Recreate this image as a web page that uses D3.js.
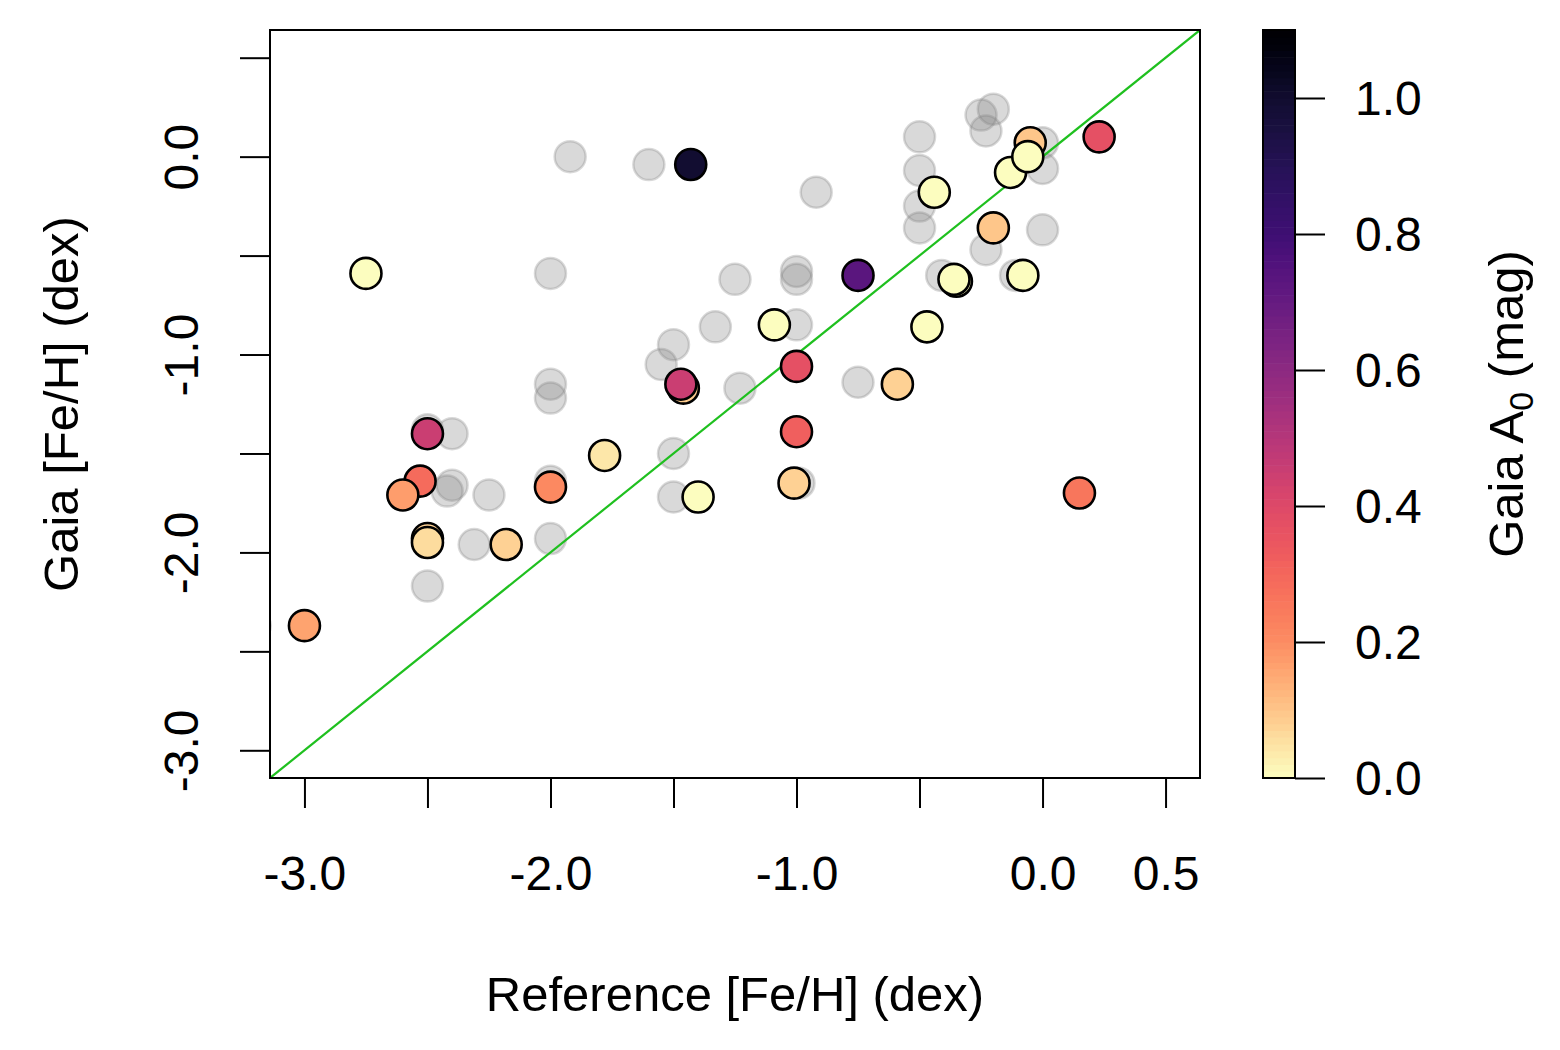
<!DOCTYPE html>
<html>
<head>
<meta charset="utf-8">
<script src="https://cdn.jsdelivr.net/npm/d3@7"></script>
<style>
  html, body { margin: 0; padding: 0; background: #fff; }
  svg { display: block; font-family: "Liberation Sans", Arial, Helvetica, sans-serif; }
</style>
</head>
<body>
<svg id="chart" width="1560" height="1050"></svg>
<script>
// background comparison sample (drawn in translucent grey)
const bgRef  = [-1.92, -1.60, -2.00, -1.25, -1.33, -1.50, -1.55, -2.00, -2.00, -1.23,
                -0.20, -0.25, -0.23,  0.00,  0.00, -0.50, -0.50, -0.50, -0.50, -0.92,
                 0.00, -0.23, -1.00, -1.00, -0.41, -0.11, -1.00, -0.75, -2.50, -2.40,
                -2.40, -2.42, -2.25, -2.00, -1.50, -1.50, -2.31, -2.00, -2.50, -3.20, -0.99];
const bgGaia = [ 0.00, -0.04, -0.59, -0.62, -0.86, -0.95, -1.05, -1.15, -1.22, -1.17,
                 0.24,  0.21,  0.13,  0.07, -0.06,  0.10, -0.07, -0.25, -0.36, -0.18,
                -0.37, -0.47, -0.58, -0.62, -0.60, -0.60, -0.85, -1.14, -1.38, -1.40,
                -1.66, -1.69, -1.71, -1.64, -1.50, -1.72, -1.96, -1.93, -2.17, -2.37, -1.65];

// highlighted stars, coloured by Gaia A0 (draw order = array order)
const starRef  = [-2.75, -1.43, -1.46, -1.47, -0.05,  0.23, -0.13, -0.06, -0.44, -0.20,
                  -0.75, -0.35, -0.36, -0.08, -1.09, -0.47, -1.00, -0.59, -1.00, -1.01,
                   0.15, -2.50, -2.53, -2.60, -2.00, -1.78, -1.40, -2.50, -2.50, -2.18, -3.00];
const starGaia = [-0.59, -0.04, -1.17, -1.15,  0.07,  0.10, -0.08,  0.00, -0.18, -0.36,
                  -0.60, -0.63, -0.62, -0.60, -0.85, -0.86, -1.06, -1.15, -1.39, -1.65,
                  -1.70, -1.40, -1.64, -1.71, -1.67, -1.51, -1.72, -1.93, -1.95, -1.96, -2.37];
const starA0   = [ 0.00,  1.00,  0.09,  0.45,  0.10,  0.37,  0.00,  0.00,  0.00,  0.10,
                   0.73,  0.00,  0.00,  0.00,  0.00,  0.00,  0.37,  0.08,  0.32,  0.08,
                   0.26,  0.45,  0.29,  0.17,  0.21,  0.04,  0.00,  0.08,  0.06,  0.08,  0.16];

const axisTicks   = [-3.0, -2.5, -2.0, -1.5, -1.0, -0.5, 0.0, 0.5];
const xTickLabels = ["-3.0", "", "-2.0", "", "-1.0", "", "0.0", "0.5"];
const yTickLabels = ["-3.0", "", "-2.0", "", "-1.0", "", "0.0", ""];
const a0Ticks      = [0.0, 0.2, 0.4, 0.6, 0.8, 1.0];
const a0TickLabels = ["0.0", "0.2", "0.4", "0.6", "0.8", "1.0"];
const a0Max = 1.1;

const svg = d3.select("#chart");
const plot = { left: 270, right: 1200, top: 30, bottom: 778 };
const bar = { left: 1263, right: 1295 };
const fontSize = 48;

const x = d3.scaleLinear().domain([-3.14, 0.64]).range([plot.left, plot.right]);
const y = d3.scaleLinear().domain([-3.14, 0.64]).range([plot.bottom, plot.top]);
const c = d3.scaleLinear().domain([0, a0Max]).range([plot.bottom, plot.top]);
// A0 -> position along the (reversed) magma ramp
const ramp = d3.scaleLinear()
    .domain([0, 0.2, 0.4, 0.6, 0.8, 1.0, a0Max])
    .range([1, 0.76, 0.6, 0.4, 0.21, 0.09, 0])
    .clamp(true);
const colour = v => d3.interpolateMagma(ramp(v));

svg.append("defs").append("clipPath").attr("id", "plot-clip")
    .append("rect")
    .attr("x", plot.left).attr("y", plot.top)
    .attr("width", plot.right - plot.left).attr("height", plot.bottom - plot.top);

const inner = svg.append("g").attr("clip-path", "url(#plot-clip)");

// grey points
inner.append("g")
    .selectAll("circle")
    .data(bgRef.map((r, i) => ({ r, g: bgGaia[i] })))
    .join("circle")
    .attr("cx", d => x(d.r))
    .attr("cy", d => y(d.g))
    .attr("r", 15.5)
    .attr("fill", "rgba(128,128,128,0.3)")
    .attr("stroke", "rgba(128,128,128,0.3)")
    .attr("stroke-width", 2.5);

// one-to-one line
inner.append("line")
    .attr("x1", x(-3.14)).attr("y1", y(-3.14))
    .attr("x2", x(0.64)).attr("y2", y(0.64))
    .attr("stroke", "#1fc01f")
    .attr("stroke-width", 2.2);

// coloured points
inner.append("g")
    .selectAll("circle")
    .data(starRef.map((r, i) => ({ r, g: starGaia[i], a0: starA0[i] })))
    .join("circle")
    .attr("cx", d => x(d.r))
    .attr("cy", d => y(d.g))
    .attr("r", 15.5)
    .attr("fill", d => colour(d.a0))
    .attr("stroke", "#000")
    .attr("stroke-width", 2.6);

// plot box
svg.append("rect")
    .attr("x", plot.left).attr("y", plot.top)
    .attr("width", plot.right - plot.left).attr("height", plot.bottom - plot.top)
    .attr("fill", "none")
    .attr("stroke", "#000")
    .attr("stroke-width", 2);

function styleAxis(g) {
    g.select(".domain").remove();
    g.selectAll("line").attr("stroke", "#000").attr("stroke-width", 2);
    g.selectAll("text")
        .attr("fill", "#000")
        .style("font-size", fontSize + "px")
        .style("font-family", "\"Liberation Sans\", Arial, Helvetica, sans-serif");
}

// x axis
svg.append("g")
    .attr("transform", `translate(0,${plot.bottom})`)
    .call(d3.axisBottom(x).tickValues(axisTicks).tickSize(30).tickFormat((d, i) => xTickLabels[i]))
    .call(styleAxis)
    .call(g => g.selectAll("text").attr("y", 112).attr("dy", null));

// y axis, labels rotated like R's las = 0
svg.append("g")
    .attr("transform", `translate(${plot.left},0)`)
    .call(d3.axisLeft(y).tickValues(axisTicks).tickSize(30).tickFormat((d, i) => yTickLabels[i]))
    .call(styleAxis)
    .call(g => g.selectAll("text")
        .attr("x", 0).attr("y", 0).attr("dy", null)
        .attr("text-anchor", "middle")
        .attr("transform", "translate(-72,0) rotate(-90)"));

// axis titles
svg.append("text")
    .attr("x", (plot.left + plot.right) / 2)
    .attr("y", 1011)
    .attr("text-anchor", "middle")
    .style("font-size", "49px")
    .text("Reference [Fe/H] (dex)");

svg.append("text")
    .attr("transform", `translate(78,${(plot.top + plot.bottom) / 2}) rotate(-90)`)
    .attr("text-anchor", "middle")
    .style("font-size", "49px")
    .text("Gaia [Fe/H] (dex)");

// colour bar
const step = a0Max / 110;
svg.append("g")
    .selectAll("rect")
    .data(d3.range(0, a0Max - step / 2, step))
    .join("rect")
    .attr("x", bar.left)
    .attr("width", bar.right - bar.left)
    .attr("y", d => c(d + step))
    .attr("height", d => c(d) - c(d + step) + 0.6)
    .attr("fill", d => colour(d + step / 2));

svg.append("rect")
    .attr("x", bar.left).attr("y", plot.top)
    .attr("width", bar.right - bar.left).attr("height", plot.bottom - plot.top)
    .attr("fill", "none")
    .attr("stroke", "#000")
    .attr("stroke-width", 2);

svg.append("g")
    .attr("transform", `translate(${bar.right},0)`)
    .call(d3.axisRight(c).tickValues(a0Ticks).tickSize(30).tickFormat((d, i) => a0TickLabels[i]))
    .call(styleAxis)
    .call(g => g.selectAll("text").attr("x", 60).attr("dy", "0.35em"));

const cTitle = svg.append("text")
    .attr("transform", `translate(1523,${(plot.top + plot.bottom) / 2}) rotate(-90)`)
    .attr("text-anchor", "middle")
    .style("font-size", "49px");
cTitle.append("tspan").text("Gaia A");
cTitle.append("tspan").attr("dy", 10).style("font-size", "34px").text("0");
cTitle.append("tspan").attr("dy", -10).text(" (mag)");
</script>
</body>
</html>
